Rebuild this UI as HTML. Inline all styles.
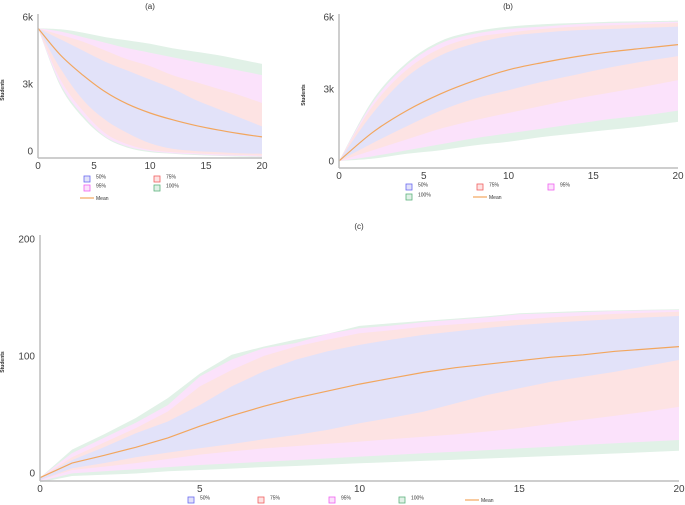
<!DOCTYPE html>
<html><head><meta charset="utf-8">
<style>
html,body{margin:0;padding:0;background:#fff;}
svg{display:block;font-family:"Liberation Sans",sans-serif;}
</style></head>
<body>
<svg id="chart" width="685" height="505" viewBox="0 0 685 505" xmlns="http://www.w3.org/2000/svg"></svg>
<script>
// shared x categories
const xA = [0,2,4,6,8,10,12,14,16,18,20];
const xC = [0,1,2,3,4,5,6,7,8,9,10,11,12,13,14,15,16,17,18,19,20];
const xTicks = [0,5,10,15,20];
const bandNames = ["100%","95%","75%","50%"];

// Panel (a) values in thousands
const aMean = [5.5,4.3,3.4,2.65,2.1,1.7,1.4,1.15,0.95,0.78,0.63];
const aUp100 = [5.5,5.45,5.3,5.1,4.95,4.8,4.6,4.45,4.3,4.1,3.9];
const aLo100 = [5.5,2.9,1.5,0.6,0.15,-0.05,-0.12,-0.18,-0.22,-0.25,-0.27];
const aUp95 = [5.5,5.35,5.1,4.85,4.6,4.4,4.2,4.0,3.8,3.6,3.4];
const aLo95 = [5.5,3.0,1.6,0.65,0.2,0.0,-0.1,-0.15,-0.2,-0.22,-0.25];
const aUp75 = [5.5,5.2,4.9,4.5,4.1,3.8,3.4,3.1,2.8,2.5,2.15];
const aLo75 = [5.5,3.2,1.8,0.8,0.3,0.05,-0.05,-0.1,-0.15,-0.18,-0.2];
const aUp50 = [5.5,5.0,4.5,4.0,3.6,3.2,2.8,2.3,1.9,1.5,1.1];
const aLo50 = [5.5,3.7,2.3,1.4,0.8,0.35,0.1,0.0,-0.05,-0.1,-0.13];
const aYTicks = [0,3,6];
const aYLabels = ["0","3k","6k"];

// Panel (b) values in thousands
const bMean = [0,1.2,2.1,2.8,3.35,3.8,4.1,4.35,4.55,4.7,4.85];
const bUp100 = [0,2.55,4.1,5.0,5.4,5.6,5.7,5.75,5.8,5.82,5.85];
const bLo100 = [0,0.1,0.3,0.45,0.65,0.8,1.0,1.15,1.3,1.45,1.63];
const bUp95 = [0,2.45,4.0,4.9,5.3,5.5,5.6,5.7,5.75,5.78,5.8];
const bLo95 = [0,0.2,0.45,0.7,0.95,1.15,1.35,1.55,1.75,1.9,2.1];
const bUp75 = [0,2.3,3.8,4.7,5.15,5.35,5.5,5.6,5.65,5.7,5.75];
const bLo75 = [0,0.45,0.9,1.35,1.7,2.0,2.3,2.6,2.85,3.1,3.37];
const bUp50 = [0,2.0,3.5,4.4,4.9,5.2,5.35,5.45,5.5,5.55,5.6];
const bLo50 = [0,0.75,1.45,2.1,2.6,2.95,3.3,3.6,3.9,4.15,4.37];
const bYTicks = [0,3,6];
const bYLabels = ["0","3k","6k"];

// Panel (c) values
const cMean = [-4,8.5,15,22,30,40,49,57,64,70,76,81,86,90,93,96,99,101,104,106,108];
const cUp100 = [-4,20,33,47,64,85,101,108,114,119,125.7,128,130,132,134,136.5,137.5,138.5,139,139.5,140];
const cLo100 = [-8,-2.6,-1.5,-0.4,1.5,2.6,3.8,5,6,7.2,8.3,9.3,10.3,11.3,12.4,13.4,14.5,15.6,16.7,17.9,19.1];
const cUp95 = [-4,17,30,43,58,82.5,97,106.7,111,119,123.7,126,129,131,133,135.6,136.5,137.5,138.5,139,139.3];
const cLo95 = [-7,-0.3,1.5,3.2,5,6.8,8.2,9.6,11,12.5,14,15.4,16.8,18.2,19.6,21,22.5,24,25.4,26.8,28.2];
const cUp75 = [-4,13.4,26,38.4,52.6,74,88,100,108,114,119.5,122,125,127,129,131,133,134.5,136,137,137.9];
const cLo75 = [-6,2.6,5.5,8.5,12,15.7,18.5,21,23,25,26.8,29,31,33,35.5,38.4,42,45.5,49,52.5,56.5];
const cUp50 = [-4,11,22,34,44,58,74,86.8,96.8,104,109.5,114,118,121,124,126.5,128.5,130,131.5,133,134.2];
const cLo50 = [-6,4,8.5,13.4,17.4,21.1,24.8,28.8,32.5,36.8,42.5,47.3,52.4,59.5,66.7,72.4,78,82.3,86.6,91.5,96.6];
const cYTicks = [0,100,200];
const cYLabels = ["0","100","200"];

const NS = "http://www.w3.org/2000/svg";
const svg = document.getElementById('chart');
const fills = {"100%":"#e1f1e7","95%":"#fbe2fb","75%":"#fde3e3","50%":"#e2e2f9"};
const strokes = {"100%":"#5cb37e","95%":"#f060f0","75%":"#f06060","50%":"#6a6af0"};
const MEAN = "#f2a65e";

function mk(tag, attrs, parent){
  const e = document.createElementNS(NS, tag);
  for (const k in attrs) e.setAttribute(k, attrs[k]);
  (parent||svg).appendChild(e);
  return e;
}

// path through points; smooth uses Catmull-Rom -> cubic bezier
function pathThrough(pts, smooth, startCmd){
  let d = startCmd + pts[0][0].toFixed(1) + "," + pts[0][1].toFixed(1);
  for (let i = 0; i < pts.length - 1; i++) {
    const p1 = pts[i], p2 = pts[i+1];
    if (!smooth) { d += "L" + p2[0].toFixed(1) + "," + p2[1].toFixed(1); continue; }
    const p0 = pts[i-1] || p1, p3 = pts[i+2] || p2;
    const c1 = [p1[0] + (p2[0]-p0[0])/6, p1[1] + (p2[1]-p0[1])/6];
    const c2 = [p2[0] - (p3[0]-p1[0])/6, p2[1] - (p3[1]-p1[1])/6];
    d += "C" + c1[0].toFixed(1) + "," + c1[1].toFixed(1) + " " + c2[0].toFixed(1) + "," + c2[1].toFixed(1) + " " + p2[0].toFixed(1) + "," + p2[1].toFixed(1);
  }
  return d;
}

function drawPanel(p){
  const g = mk('g', {});
  
  
  const sx = v => p.x0 + v * (p.x1 - p.x0) / 20;
  const sy = v => p.y0 - v * (p.y0 - p.yTop) / p.yMax;
  const bands = [[p.up100,p.lo100,"100%"],[p.up95,p.lo95,"95%"],[p.up75,p.lo75,"75%"],[p.up50,p.lo50,"50%"]];
  bands.forEach(b => {
    const up = p.xs.map((x,i) => [sx(x), sy(b[0][i])]);
    const lo = p.xs.map((x,i) => [sx(x), sy(b[1][i])]).reverse();
    const d = pathThrough(up, p.smooth, "M") + pathThrough(lo, p.smooth, "L") + "Z";
    const path = mk('path', {d: d, fill: fills[b[2]], stroke: "none"}, g);
    
    
  });
  const mpts = p.xs.map((x,i) => [sx(x), sy(p.mean[i])]);
  const ml = mk('path', {d: pathThrough(mpts, p.smooth, "M"), fill: "none", stroke: MEAN, "stroke-width": 1.2}, g);
  
  
  const ya = mk('line', {x1:p.x0, y1:p.axTop, x2:p.x0, y2:p.axBot, stroke:"#bdbdbd", "stroke-width":1.5}, g);
  
  
  const xa = mk('line', {x1:p.x0, y1:p.axBot, x2:p.x1, y2:p.axBot, stroke:"#bdbdbd", "stroke-width":1.5}, g);
  
  
  xTicks.forEach(t => {
    const tx = mk('text', {x: sx(t), y: p.axBot + 11, "font-size": 10, fill: "#444", "text-anchor": "middle"}, g);
    tx.textContent = String(t);
    
    
  });
  p.yTicks.forEach((t,i) => {
    const ty = mk('text', {x: p.x0 - 5, y: sy(t) + 3.5, "font-size": 10, fill: "#444", "text-anchor": "end"}, g);
    ty.textContent = p.yLabels[i];
    
    
  });
  const title = mk('text', {x: p.titleX, y: p.titleY, "font-size": 8, fill: "#333", "text-anchor": "middle"}, g);
  title.textContent = p.title;
  
  
  const yt = mk('text', {x: 0, y: 0, "font-size": 5, fill: "#333", "text-anchor": "middle", "font-weight": "bold",
    transform: "translate(" + p.ylabX + "," + p.ylabY + ") rotate(-90)"}, g);
  yt.textContent = "Students";
  
  
  p.legend.forEach(it => {
    if (it.k === "Mean") {
      const l = mk('line', {x1: it.x - 7, y1: it.y, x2: it.x + 7, y2: it.y, stroke: MEAN, "stroke-width": 1.2}, g);
      
      
      const t = mk('text', {x: it.x + 9, y: it.y + 2, "font-size": 5, fill: "#333"}, g);
      t.textContent = "Mean";
      
      
    } else {
      const r = mk('rect', {x: it.x - 3, y: it.y - 3, width: 6, height: 6, fill: fills[it.k], stroke: strokes[it.k], "stroke-width": 0.8}, g);
      
      
      const t = mk('text', {x: it.x + 9, y: it.y - 0.5, "font-size": 5, fill: "#333"}, g);
      t.textContent = it.k;
      
      
    }
  });
}

drawPanel({name:"panel-a", smooth:true, xs:xA, mean:aMean, up100:aUp100, lo100:aLo100, up95:aUp95, lo95:aLo95, up75:aUp75, lo75:aLo75, up50:aUp50, lo50:aLo50,
  x0:38, x1:262, y0:151, yTop:17, yMax:6, axTop:14, axBot:158, yTicks:aYTicks, yLabels:aYLabels,
  title:"(a)", titleX:150, titleY:9, ylabX:4, ylabY:90,
  legend:[{k:"50%",x:87,y:179},{k:"75%",x:157,y:179},{k:"95%",x:87,y:188},{k:"100%",x:157,y:188},{k:"Mean",x:87,y:198}]});

drawPanel({name:"panel-b", smooth:true, xs:xA, mean:bMean, up100:bUp100, lo100:bLo100, up95:bUp95, lo95:bLo95, up75:bUp75, lo75:bLo75, up50:bUp50, lo50:bLo50,
  x0:339, x1:678, y0:161, yTop:17, yMax:6, axTop:14, axBot:168, yTicks:bYTicks, yLabels:bYLabels,
  title:"(b)", titleX:508, titleY:9, ylabX:305, ylabY:95,
  legend:[{k:"50%",x:409,y:187},{k:"75%",x:480,y:187},{k:"95%",x:551,y:187},{k:"100%",x:409,y:197},{k:"Mean",x:480,y:197}]});

drawPanel({name:"panel-c", smooth:false, xs:xC, mean:cMean, up100:cUp100, lo100:cLo100, up95:cUp95, lo95:cLo95, up75:cUp75, lo75:cLo75, up50:cUp50, lo50:cLo50,
  x0:40, x1:679, y0:473, yTop:239, yMax:200, axTop:235, axBot:481, yTicks:cYTicks, yLabels:cYLabels,
  title:"(c)", titleX:359, titleY:229, ylabX:4, ylabY:362,
  legend:[{k:"50%",x:191,y:500},{k:"75%",x:261,y:500},{k:"95%",x:332,y:500},{k:"100%",x:402,y:500},{k:"Mean",x:472,y:500}]});
</script>
</body></html>
